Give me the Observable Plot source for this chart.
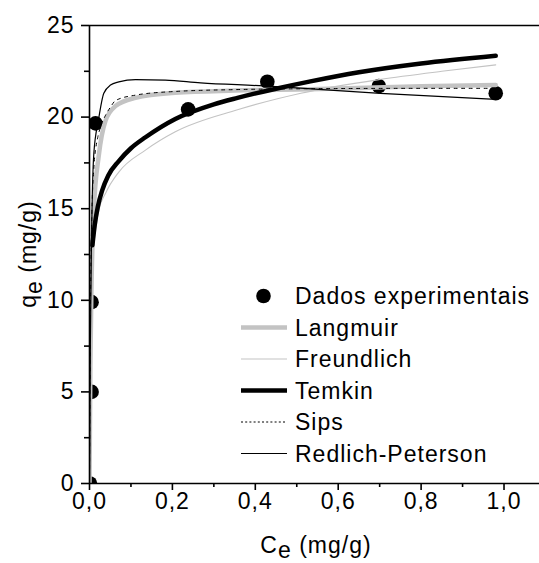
<!DOCTYPE html>
<html>
<head>
<meta charset="utf-8">
<script src="https://cdn.jsdelivr.net/npm/d3@7"></script>
<script src="https://cdn.jsdelivr.net/npm/@observablehq/plot@0.6"></script>
<style>
  html, body { margin: 0; padding: 0; background: #fff; }
  #chart { width: 539px; height: 563px; }
</style>
</head>
<body>
<div id="chart"></div>
<script>
// Experimental equilibrium data
const expC = [0.001, 0.005, 0.005, 0.0145, 0.238, 0.429, 0.698, 0.98];
const expQ = [0, 5.0, 9.9, 19.66, 20.42, 21.93, 21.69, 21.3];

// Fitted isotherm curves (Ce, qe)
const langmuirC = [0, 0.002, 0.005, 0.0104, 0.0224, 0.0386, 0.0627, 0.111, 0.207, 0.35, 0.533, 0.8, 0.98];
const langmuirQ = [0, 6.3, 11.0, 14.9, 17.9, 19.8, 20.6, 21.05, 21.33, 21.45, 21.52, 21.68, 21.75];

const freundlichC = [0, 0.0005, 0.002, 0.005, 0.0104, 0.0224, 0.04, 0.0707, 0.135, 0.207, 0.357, 0.51, 0.7, 0.85, 0.98];
const freundlichQ = [0, 8.7, 10.5, 12.0, 13.1, 14.9, 15.9, 17.0, 18.2, 19.2, 20.4, 21.3, 22.05, 22.5, 22.85];

const temkinC = [0.007, 0.0125, 0.02, 0.0306, 0.045, 0.0707, 0.1, 0.135, 0.207, 0.3, 0.357, 0.45, 0.533, 0.65, 0.8, 0.98];
const temkinQ = [13.0, 14.1, 15.1, 16.0, 16.8, 17.6, 18.3, 18.9, 19.9, 20.7, 21.05, 21.55, 21.95, 22.45, 22.93, 23.35];

const sipsC = [0, 0.002, 0.005, 0.0104, 0.02, 0.0265, 0.0386, 0.0507, 0.0627, 0.111, 0.207, 0.35, 0.533, 0.8, 0.98];
const sipsQ = [0, 8.5, 14.0, 17.2, 18.9, 19.45, 20.1, 20.55, 20.9, 21.2, 21.4, 21.5, 21.55, 21.57, 21.57];

const rpC = [0, 0.002, 0.005, 0.0104, 0.0217, 0.0345, 0.0507, 0.0707, 0.111, 0.183, 0.268, 0.42, 0.509, 0.702, 0.98];
const rpQ = [0, 7.5, 13.5, 18.0, 19.85, 21.3, 21.75, 21.92, 22.05, 22.02, 21.87, 21.7, 21.58, 21.29, 20.97];

// Axis ticks and labels
const xTicks = [0, 0.2, 0.4, 0.6, 0.8, 1.0];
const xTickLabels = ["0,0", "0,2", "0,4", "0,6", "0,8", "1,0"];
const xMinorTicks = [0.1, 0.3, 0.5, 0.7, 0.9];
const yTicks = [0, 5, 10, 15, 20, 25];
const yTickLabels = ["0", "5", "10", "15", "20", "25"];
const yMinorTicks = [2.5, 7.5, 12.5, 17.5, 22.5];

// Legend entries
const legendLabels = ["Dados experimentais", "Langmuir", "Freundlich", "Temkin", "Sips", "Redlich-Peterson"];

const FONT = "'Liberation Sans', Arial, Helvetica, sans-serif";

const table = (cs, qs) => cs.map((c, i) => ({c, q: qs[i]}));

const lineStyles = [
  {data: table(langmuirC, langmuirQ), stroke: "#c3c3c3", strokeWidth: 4.5},
  {data: table(freundlichC, freundlichQ), stroke: "#c3c3c3", strokeWidth: 1.1},
  {data: table(temkinC, temkinQ), stroke: "#000", strokeWidth: 4.5},
  {data: table(sipsC, sipsQ), stroke: "#000", strokeWidth: 1, strokeDasharray: "3,4.5"},
  {data: table(rpC, rpQ), stroke: "#000", strokeWidth: 1.2}
];

const svg = Plot.plot({
  width: 539,
  height: 563,
  marginLeft: 89,
  marginRight: 0,
  marginTop: 25,
  marginBottom: 80,
  style: {fontFamily: FONT, fontSize: "23px", letterSpacing: "1px", color: "#000", background: "#fff", overflow: "visible"},
  x: {domain: [0, 1.0856], label: null},
  y: {domain: [0, 25], label: null},
  marks: [
    Plot.dot(table(expC, expQ), {x: "c", y: "q", r: 7.3, fill: "#000", stroke: "none", clip: true}),
    ...lineStyles.map(s => Plot.line(s.data, {
      x: "c", y: "q", stroke: s.stroke, strokeWidth: s.strokeWidth,
      strokeDasharray: s.strokeDasharray, curve: "monotone-x", clip: true
    })),
    // frame: left, bottom and top lines
    Plot.ruleX([0], {stroke: "#000", strokeWidth: 1.6}),
    Plot.ruleY([0], {stroke: "#000", strokeWidth: 1.6}),
    Plot.ruleY([25], {stroke: "#000", strokeWidth: 1.6}),
    Plot.axisY({ticks: yTicks, tickSize: 8, tickPadding: 7, strokeWidth: 1.6, fontSize: 23, label: null,
      tickFormat: d => yTickLabels[yTicks.indexOf(d)]}),
    Plot.axisY({ticks: yMinorTicks, tickSize: 5, strokeWidth: 1.6, label: null, tickFormat: () => ""}),
    Plot.axisX({ticks: xTicks, tickSize: 7, tickPadding: 2, strokeWidth: 1.6, fontSize: 23, label: null,
      tickFormat: d => xTickLabels[xTicks.indexOf(d)]}),
    Plot.axisX({ticks: xMinorTicks, tickSize: 4, strokeWidth: 1.6, label: null, tickFormat: () => ""})
  ]
});

document.getElementById("chart").append(svg);

// Axis titles with subscripts
const root = d3.select(svg);
const xTitle = root.append("text")
  .attr("x", 316).attr("y", 553)
  .attr("text-anchor", "middle")
  .attr("font-family", FONT).attr("font-size", 23)
  .attr("fill", "#000");
xTitle.append("tspan").text("C");
xTitle.append("tspan").attr("dy", 5).text("e");
xTitle.append("tspan").attr("dy", -5).text(" (mg/g)");

const yTitle = root.append("text")
  .attr("transform", "translate(36,254) rotate(-90)")
  .attr("text-anchor", "middle")
  .attr("font-family", FONT).attr("font-size", 23)
  .attr("fill", "#000");
yTitle.append("tspan").text("q");
yTitle.append("tspan").attr("dy", 6).text("e");
yTitle.append("tspan").attr("dy", -6).text(" (mg/g)");

// Legend inside the plot area
const legend = root.append("g")
  .attr("font-family", FONT).attr("font-size", 23)
  .attr("text-anchor", "start");
const legendTop = 296, legendStep = 31.5, swatchX0 = 241, swatchX1 = 287, labelX = 295;
const swatchStyles = [null, ...lineStyles];
legendLabels.forEach((label, i) => {
  const y = legendTop + i * legendStep;
  if (i === 0) {
    legend.append("circle").attr("cx", (swatchX0 + swatchX1) / 2 - 0.5).attr("cy", y).attr("r", 7.3).attr("fill", "#000");
  } else {
    const s = swatchStyles[i];
    legend.append("line")
      .attr("x1", swatchX0).attr("x2", swatchX1).attr("y1", y).attr("y2", y)
      .attr("stroke", s.stroke).attr("stroke-width", s.strokeWidth)
      .attr("stroke-dasharray", s.strokeDasharray ? "2,2.2" : null);
  }
  legend.append("text")
    .attr("x", labelX).attr("y", y).attr("dy", "0.36em")
    .attr("fill", "#000")
    .text(label);
});
</script>
</body>
</html>
